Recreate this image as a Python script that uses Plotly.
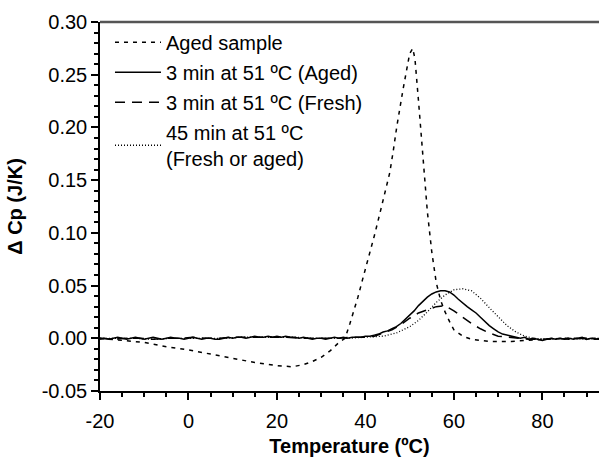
import plotly.graph_objects as go

FONT = "Arial, 'Liberation Sans', Helvetica, sans-serif"

# ---- data ----
t_solid = list(range(-20, 94))
v_solid = [-0.001, 0.000, -0.001, 0.000, 0.001, 0.000, -0.001, 0.000, 0.001, 0.000,
           -0.001, 0.000, 0.001, 0.000, -0.001, 0.000, 0.001, 0.000, 0.000, -0.001,
           0.000, 0.001, 0.000, -0.001, 0.000, 0.000, -0.001, -0.001, 0.000, 0.001,
           0.000, 0.001, 0.001, 0.000, 0.001, 0.002, 0.001, 0.001, 0.002, 0.001,
           0.002, 0.001, 0.002, 0.001, 0.001, 0.000, 0.001, 0.000, -0.001, 0.000,
           0.000, -0.001, 0.000, 0.001, 0.000, 0.001, 0.000, 0.001, 0.001, 0.001,
           0.002, 0.002, 0.003, 0.004, 0.006, 0.007, 0.009, 0.011, 0.014, 0.018,
           0.022, 0.026, 0.031, 0.035, 0.039, 0.042, 0.044, 0.045, 0.045, 0.044,
           0.041, 0.037, 0.033, 0.030, 0.027, 0.024, 0.020, 0.016, 0.012, 0.009,
           0.006, 0.004, 0.003, 0.002, 0.001, 0.000, 0.001, -0.001, 0.000, -0.001,
           -0.002, -0.001, 0.000, -0.001, 0.000, -0.001, 0.000, -0.001, 0.000, 0.001,
           -0.001, 0.000, -0.001, 0.000]

t_fresh = [-20, -17, -14, -11, -8, -5, -2, 1, 4, 7, 10, 13, 16, 19, 22, 25, 28, 31, 34, 37,
           40, 42, 44, 46, 48, 50, 52, 54, 56, 58, 60, 62, 64, 66, 68, 70, 72, 74, 77, 80,
           83, 86, 89, 93]
v_fresh = [0.000, -0.001, 0.000, 0.000, -0.001, 0.000, 0.000, 0.001, 0.000, 0.000,
           0.001, 0.001, 0.001, 0.001, 0.001, 0.000, 0.000, 0.000, 0.000, 0.001,
           0.001, 0.002, 0.005, 0.008, 0.013, 0.019, 0.024, 0.027, 0.030, 0.031,
           0.026, 0.020, 0.014, 0.009, 0.005, 0.002, 0.001, 0.000, -0.001, -0.001,
           0.000, -0.001, 0.000, -0.001]

t_45 = [-20, -16, -12, -8, -4, 0, 4, 8, 12, 16, 20, 24, 28, 32, 36, 40, 44, 47, 50, 52,
        54, 56, 58, 60, 62, 64, 66, 68, 70, 72, 74, 76, 78, 82, 86, 90, 93]
v_45 = [0.000, 0.000, 0.000, -0.001, 0.000, 0.000, 0.000, 0.000, 0.001, 0.001,
        0.001, 0.001, 0.000, 0.000, 0.000, 0.001, 0.002, 0.005, 0.011, 0.017,
        0.025, 0.034, 0.041, 0.046, 0.047, 0.045, 0.038, 0.029, 0.020, 0.012,
        0.006, 0.002, 0.000, -0.001, 0.000, -0.001, 0.000]

t_aged = [-20, -15, -10, -5, 0, 5, 10, 15, 20, 23.5, 26, 28, 30, 32, 34, 35.4, 36.5, 37.5,
          38.3, 39.5, 41, 42, 43.3, 44.5, 45.5, 46.3, 47.1, 48.5, 50, 50.7, 51.2, 52, 53,
          54, 55, 56, 57, 58, 59, 60, 62, 64, 66, 68, 70, 73, 76, 80, 85, 93]
v_aged = [0.000, -0.002, -0.004, -0.008, -0.011, -0.015, -0.019, -0.023, -0.026, -0.027,
          -0.025, -0.022, -0.018, -0.012, -0.004, 0.000, 0.014, 0.027, 0.039, 0.058,
          0.081, 0.097, 0.119, 0.139, 0.157, 0.178, 0.201, 0.236, 0.270, 0.275,
          0.265, 0.225, 0.170, 0.120, 0.082, 0.053, 0.036, 0.025, 0.016, 0.008,
          0.002, -0.001, -0.002, -0.003, -0.003, -0.003, -0.002, -0.001, 0.000, 0.000]

names = ["Aged sample", "3 min at 51 ºC (Aged)", "3 min at 51 ºC (Fresh)",
         "45 min at 51 ºC<br>(Fresh or aged)"]

x_ticks = [-20, 0, 20, 40, 60, 80]
x_ticktext = ["-20", "0", "20", "40", "60", "80"]
y_ticks = [-0.05, 0.00, 0.05, 0.10, 0.15, 0.20, 0.25, 0.30]
y_ticktext = ["-0.05", "0.00", "0.05", "0.10", "0.15", "0.20", "0.25", "0.30"]

fig = go.Figure()
fig.add_trace(go.Scatter(x=t_aged, y=v_aged, mode="lines", name=names[0],
                         line=dict(color="black", width=1.5, dash="4px,5px"),
                         legendgroup="a"))
fig.add_trace(go.Scatter(x=t_solid, y=v_solid, mode="lines", name=names[1],
                         line=dict(color="black", width=1.5), legendgroup="b"))
fig.add_trace(go.Scatter(x=t_fresh, y=v_fresh, mode="lines", name=names[2],
                         line=dict(color="black", width=1.5, dash="10px,7px"),
                         legendgroup="c"))
fig.add_trace(go.Scatter(x=t_45, y=v_45, mode="lines", name=names[3],
                         line=dict(color="black", width=1.3, dash="1px,2px"),
                         legendgroup="d"))

axis_common = dict(showgrid=False, zeroline=False, showline=True, linecolor="black",
                   linewidth=1.5, ticks="outside", ticklen=7, tickwidth=1.5,
                   tickcolor="black", tickfont=dict(family=FONT, size=20, color="black"))

fig.update_xaxes(range=[-20, 92.8], tickmode="array", tickvals=x_ticks, ticktext=x_ticktext,
                 ticklabelstandoff=4,
                 minor=dict(dtick=5, tick0=0, ticks="outside", ticklen=4, tickwidth=1.5,
                            tickcolor="black"),
                 title=dict(text="<b>Temperature (ºC)</b>", standoff=12,
                            font=dict(family=FONT, size=20, color="black")),
                 **axis_common)
fig.update_yaxes(range=[-0.05, 0.30], tickmode="array", tickvals=y_ticks, ticktext=y_ticktext,
                 minor=dict(dtick=0.01, tick0=0, ticks="outside", ticklen=4, tickwidth=1.5,
                            tickcolor="black"),
                 title=dict(text="<b>Δ Cp (J/K)</b>", standoff=14,
                            font=dict(family=FONT, size=20, color="black")),
                 **axis_common)

fig.add_shape(type="line", xref="paper", yref="paper", x0=0, x1=1, y0=1, y1=1,
              line=dict(color="#555555", width=2.5))

fig.update_layout(
    width=599, height=457,
    margin=dict(l=100, r=0, t=22, b=66),
    paper_bgcolor="white", plot_bgcolor="white",
    showlegend=True,
    legend=dict(x=0.02, y=0.998, xanchor="left", yanchor="top",
                bgcolor="rgba(0,0,0,0)", traceorder="grouped", tracegroupgap=1,
                font=dict(family=FONT, size=20, color="black"), itemwidth=46),
    font=dict(family=FONT, color="black"),
)

fig.write_html("out.html")
